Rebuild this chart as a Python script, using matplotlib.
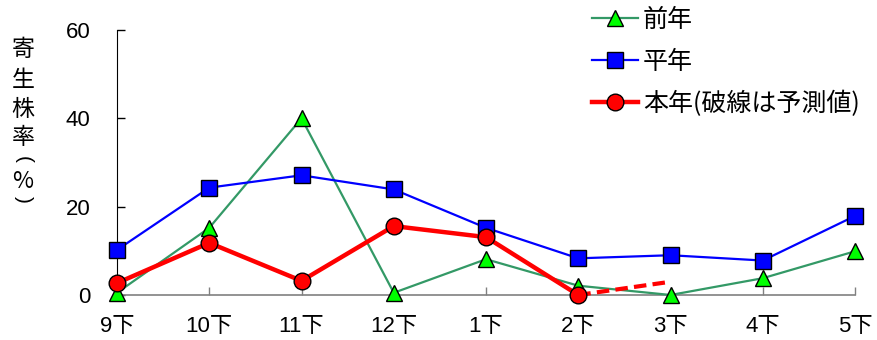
import matplotlib
matplotlib.use("Agg")
import matplotlib.pyplot as plt
from matplotlib.lines import Line2D

plt.rcParams['font.family'] = ['Liberation Sans', 'Noto Sans CJK JP', 'DejaVu Sans']

categories = ['9下', '10下', '11下', '12下', '1下', '2下', '3下', '4下', '5下']
prev_year = [0.5, 15.2, 40.0, 0.5, 8.1, 2.1, 0.0, 3.8, 9.9]
normal_year = [10.2, 24.3, 27.1, 23.9, 15.2, 8.3, 9.0, 7.8, 17.9]
this_year = [2.7, 11.8, 3.2, 15.6, 13.1, 0.0]
forecast_cats = ['2下', '3下']
forecast_vals = [0.0, 3.0]
y_ticks = [0, 20, 40, 60]
ylabel_chars = ['寄', '生', '株', '率', '(', '%', ')']

fig = plt.figure(figsize=(8.77, 3.4), dpi=100)
ax = fig.add_axes([0.1334, 0.1324, 0.8416, 0.7794])

x = list(range(len(categories)))
xi = {c: i for i, c in enumerate(categories)}

ax.plot(x, prev_year, color='#339966', lw=1.6, marker='^', ms=12,
        mfc='#00ff00', mec='black', mew=1.0, clip_on=False, zorder=3)
ax.plot(x, normal_year, color='#0000ff', lw=1.6, marker='s', ms=11.5,
        mfc='#0000ff', mec='black', mew=1.0, clip_on=False, zorder=4)
ax.plot([xi[c] for c in forecast_cats], forecast_vals, color='#ff0000',
        lw=3.0, ls=(0, (3, 1.5)), clip_on=False, zorder=4)
ax.plot(x[:len(this_year)], this_year, color='#ff0000', lw=3.2, marker='o',
        ms=12, mfc='#ff0000', mec='black', mew=1.0, clip_on=False, zorder=5)

ax.set_xlim(0, len(categories) - 1)
ax.set_ylim(0, 60)
ax.set_yticks(y_ticks)
ax.set_xticks(x)
ax.set_xticklabels(categories, fontsize=16)
ax.tick_params(axis='y', direction='in', length=6, width=1, labelsize=16,
               pad=19, colors='black')
ax.tick_params(axis='x', direction='in', length=6, width=1, pad=15,
               color='#808080', labelcolor='black')
for s in ['top', 'right']:
    ax.spines[s].set_visible(False)
ax.spines['left'].set_color('black')
ax.spines['bottom'].set_color('#808080')
ax.spines['bottom'].set_linewidth(1.2)

# vertical axis title, one character per row; brackets turned for vertical text
ylabel_rows = [50, 81, 110, 138, 160, 182, 199]
for ch, yp in zip(ylabel_chars, ylabel_rows):
    if ch in '()':
        fig.text(23 / 877, 1 - yp / 340, ch, fontsize=15, ha='center',
                 va='center', rotation=-90, family='Liberation Sans')
    else:
        fig.text(23 / 877, 1 - yp / 340, ch, fontsize=16.5, ha='center',
                 va='center', family=['Noto Sans CJK JP', 'DejaVu Sans'])

handles = [
    Line2D([], [], color='#339966', lw=1.6, marker='^', ms=12, mfc='#00ff00',
           mec='black', mew=1.0),
    Line2D([], [], color='#0000ff', lw=1.6, marker='s', ms=11.5, mfc='#0000ff',
           mec='black', mew=1.0),
    Line2D([], [], color='#ff0000', lw=3.2, marker='o', ms=12, mfc='#ff0000',
           mec='black', mew=1.0),
]
labels = ['前年', '平年', '本年(破線は予測値)']
fig.legend(handles, labels, loc='upper left', bbox_to_anchor=(0.6636, 1.01),
           frameon=False, handlelength=1.84, handletextpad=0.2,
           labelspacing=0.64, borderaxespad=0,
           prop={'family': ['Noto Sans CJK JP', 'DejaVu Sans'], 'size': 18})

fig.savefig('out.png', dpi=100)
